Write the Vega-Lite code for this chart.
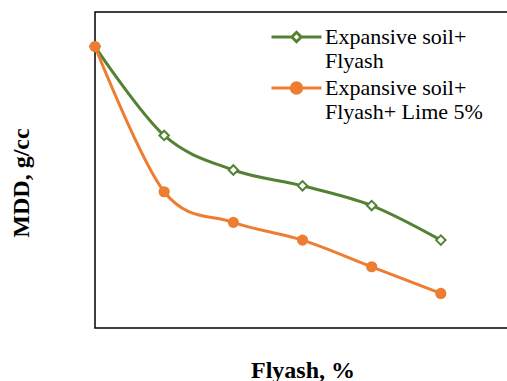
{
  "$schema": "https://vega.github.io/schema/vega-lite/v6.json",
  "autosize": {"type": "none"},
  "width": 415,
  "height": 316,
  "padding": {"left": 95, "top": 12, "right": 0, "bottom": 53},
  "background": "white",
  "config": {"view": {"stroke": "#000000", "strokeWidth": 1.5}, "font": "Liberation Serif",
    "legend": {"labelFont": "Liberation Serif", "labelFontSize": 22, "labelColor": "#000000"}},
  "data": {"values": [
    {"flyash": 0, "mdd": 1.585, "series": "Expansive soil+ Flyash"},
    {"flyash": 10, "mdd": 1.495, "series": "Expansive soil+ Flyash"},
    {"flyash": 20, "mdd": 1.460, "series": "Expansive soil+ Flyash"},
    {"flyash": 30, "mdd": 1.444, "series": "Expansive soil+ Flyash"},
    {"flyash": 40, "mdd": 1.424, "series": "Expansive soil+ Flyash"},
    {"flyash": 50, "mdd": 1.389, "series": "Expansive soil+ Flyash"},
    {"flyash": 0, "mdd": 1.585, "series": "Expansive soil+ Flyash+ Lime 5%"},
    {"flyash": 10, "mdd": 1.438, "series": "Expansive soil+ Flyash+ Lime 5%"},
    {"flyash": 20, "mdd": 1.407, "series": "Expansive soil+ Flyash+ Lime 5%"},
    {"flyash": 30, "mdd": 1.389, "series": "Expansive soil+ Flyash+ Lime 5%"},
    {"flyash": 40, "mdd": 1.362, "series": "Expansive soil+ Flyash+ Lime 5%"},
    {"flyash": 50, "mdd": 1.335, "series": "Expansive soil+ Flyash+ Lime 5%"}
  ]},
  "encoding": {
    "x": {"field": "flyash", "type": "quantitative",
      "scale": {"domain": [0, 60], "nice": false, "zero": false},
      "axis": {"title": "Flyash, %", "labels": false, "ticks": false, "domain": false, "grid": false,
        "titleFont": "Liberation Serif", "titleFontSize": 24, "titleFontWeight": "bold", "titleColor": "#000000", "titlePadding": 30}},
    "y": {"field": "mdd", "type": "quantitative",
      "scale": {"domain": [1.30, 1.62], "nice": false, "zero": false},
      "axis": {"title": "MDD, g/cc", "labels": false, "ticks": false, "domain": false, "grid": false,
        "titleFont": "Liberation Serif", "titleFontSize": 24, "titleFontWeight": "bold", "titleColor": "#000000",
        "titleX": -62, "titleY": 170.5}}
  },
  "layer": [
    {
      "mark": {"type": "line", "interpolate": "cardinal", "strokeWidth": 3},
      "encoding": {
        "color": {"field": "series", "type": "nominal",
          "scale": {"domain": ["Expansive soil+ Flyash", "Expansive soil+ Flyash+ Lime 5%"], "range": ["#548235", "#ED7D31"]},
          "legend": {"orient": "none", "legendX": 177, "legendY": 13.5, "title": null,
            "labelFont": "Liberation Serif", "labelFontSize": 22, "labelColor": "#000000", "labelLimit": 400,
            "labelOffset": 30, "labelLineHeight": 25.5, "rowPadding": 4, "symbolSize": 400, "symbolStrokeWidth": 3,
            "labelExpr": "datum.label == 'Expansive soil+ Flyash' ? ['Expansive soil+', 'Flyash'] : ['Expansive soil+', 'Flyash+ Lime 5%']",
            "encode": {
              "labels": {"update": {"font": {"value": "Liberation Serif"}, "fontSize": {"value": 22}, "fill": {"value": "#000000"}}},
              "symbols": {"update": {
              "shape": {"signal": "datum.value == 'Expansive soil+ Flyash' ? 'M-1.2,0L0.83,0M1.77,0L3.8,0M1.3,-0.47L1.77,0L1.3,0.47L0.83,0Z' : 'M-1.2,0L3.8,0M0.78,0A0.52,0.52 0 1,1 1.82,0A0.52,0.52 0 1,1 0.78,0Z'"},
              "fill": {"signal": "datum.value == 'Expansive soil+ Flyash' ? '#ffffff' : '#ED7D31'"},
              "opacity": {"value": 1}
            }}}
          }}
      }
    },
    {
      "transform": [{"filter": "datum.series == 'Expansive soil+ Flyash'"}],
      "mark": {"type": "point", "shape": "diamond", "size": 90, "filled": true, "fill": "#ffffff", "stroke": "#548235", "strokeWidth": 2, "opacity": 1}
    },
    {
      "transform": [{"filter": "datum.series == 'Expansive soil+ Flyash+ Lime 5%'"}],
      "mark": {"type": "point", "shape": "circle", "size": 125, "filled": true, "fill": "#ED7D31", "stroke": "#ED7D31", "strokeWidth": 0, "opacity": 1}
    }
  ]
}
